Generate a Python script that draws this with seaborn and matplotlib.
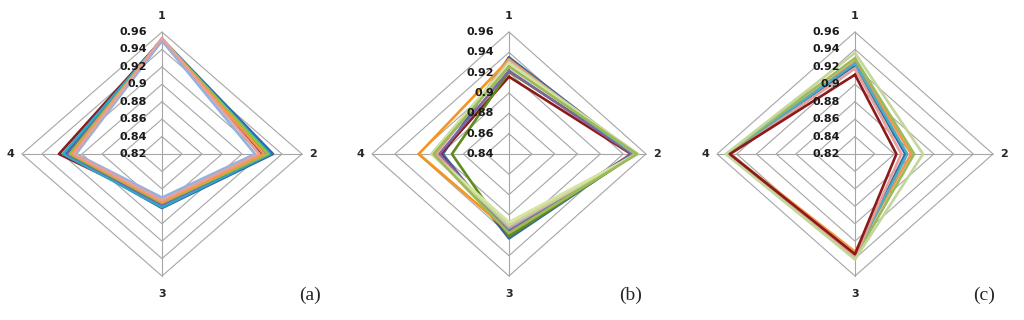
import numpy as np
import seaborn as sns
import matplotlib.pyplot as plt

# radar axes, clockwise from the top
axis_labels = ['1', '2', '3', '4']

# panel (a)
a_ticks = ['0.82', '0.84', '0.86', '0.88', '0.9', '0.92', '0.94', '0.96']
a_colors = ['#8B1A1A', '#3465A4', '#2FA8C8', '#8064A2', '#8DC63F', '#F79646', '#8EB4E3', '#E6A09A']
a_values = [
    [0.951, 0.921, 0.877, 0.923],
    [0.952, 0.931, 0.882, 0.916],
    [0.951, 0.928, 0.881, 0.919],
    [0.950, 0.925, 0.878, 0.914],
    [0.952, 0.926, 0.876, 0.912],
    [0.952, 0.922, 0.875, 0.910],
    [0.950, 0.913, 0.870, 0.906],
    [0.953, 0.917, 0.873, 0.908],
]

# panel (b)
b_ticks = ['0.84', '0.86', '0.88', '0.9', '0.92', '0.94', '0.96']
b_colors = ['#3465A4', '#8B1A1A', '#5F8A1E', '#F7941D', '#8064A2', '#4BACC6',
            '#E6A09A', '#C3D69B', '#D7E4A0', '#9BBB59']
b_values = [
    [0.935, 0.950, 0.923, 0.898],
    [0.916, 0.947, 0.920, 0.900],
    [0.921, 0.951, 0.921, 0.890],
    [0.933, 0.949, 0.916, 0.919],
    [0.922, 0.948, 0.915, 0.901],
    [0.928, 0.950, 0.913, 0.905],
    [0.932, 0.951, 0.912, 0.904],
    [0.930, 0.953, 0.910, 0.908],
    [0.929, 0.952, 0.907, 0.907],
    [0.926, 0.952, 0.918, 0.906],
]

# panel (c)
c_ticks = ['0.82', '0.84', '0.86', '0.88', '0.9', '0.92', '0.94', '0.96']
c_colors = ['#3465A4', '#F79646', '#4BACC6', '#9BBB59', '#E6A09A', '#C3D69B', '#8B1A1A']
c_values = [
    [0.922, 0.871, 0.937, 0.949],
    [0.926, 0.877, 0.932, 0.947],
    [0.924, 0.873, 0.936, 0.948],
    [0.930, 0.880, 0.939, 0.950],
    [0.918, 0.867, 0.938, 0.946],
    [0.936, 0.889, 0.941, 0.951],
    [0.911, 0.862, 0.935, 0.947],
]

DX = np.array([0, 1, 0, -1])
DY = np.array([1, 0, -1, 0])
W, H = 1024, 320


def radar(fig, cx, cy, rx, ry, ticks, colors, values):
    ax = fig.add_axes([(cx - rx) / W, (H - cy - ry) / H, 2 * rx / W, 2 * ry / H])
    ax.set_xlim(-1, 1)
    ax.set_ylim(-1, 1)
    ax.axis('off')
    lo, hi = float(ticks[0]), float(ticks[-1])
    n = len(ticks) - 1

    # polygon grid + spokes
    for i in range(1, n + 1):
        r = i / n
        ax.plot(np.append(DX, DX[0]) * r, np.append(DY, DY[0]) * r,
                color='#A6A6A6', lw=0.8, clip_on=False, zorder=1)
    for k in range(4):
        ax.plot([0, DX[k]], [0, DY[k]], color='#A6A6A6', lw=0.8, clip_on=False, zorder=1)

    for vals, col in zip(values, colors):
        r = (np.array(vals) - lo) / (hi - lo)
        xs = np.append(DX * r, DX[0] * r[0])
        ys = np.append(DY * r, DY[0] * r[0])
        sns.lineplot(x=xs, y=ys, sort=False, estimator=None, color=col, lw=1.9,
                     ax=ax, clip_on=False, zorder=3)

    for i, t in enumerate(ticks):
        ax.text(-15 / rx, i / n, t, ha='right', va='center', fontsize=8,
                fontweight='bold', color='#1a1a1a', zorder=4)

    kw = dict(ha='center', va='center', fontsize=8, fontweight='bold')
    ax.text(0, 1 + 16 / ry, axis_labels[0], **kw)
    ax.text(1 + 11 / rx, 0, axis_labels[1], **kw)
    ax.text(0, -1 - 18 / ry, axis_labels[2], **kw)
    ax.text(-1 - 12 / rx, 0, axis_labels[3], **kw)
    return ax


sns.set_style('white')
plt.rcParams['font.family'] = ['DejaVu Sans']

fig = plt.figure(figsize=(10.24, 3.2), dpi=100)
radar(fig, 162, 154, 140, 122, a_ticks, a_colors, a_values)
radar(fig, 509, 154, 137, 122, b_ticks, b_colors, b_values)
radar(fig, 855, 154, 138, 122, c_ticks, c_colors, c_values)

for x, lab in [(310, '(a)'), (631, '(b)'), (984, '(c)')]:
    fig.text(x / W, 1 - 295 / H, lab, ha='center', va='center', fontsize=14,
             family='Liberation Serif')

fig.savefig('out.png', dpi=100)
